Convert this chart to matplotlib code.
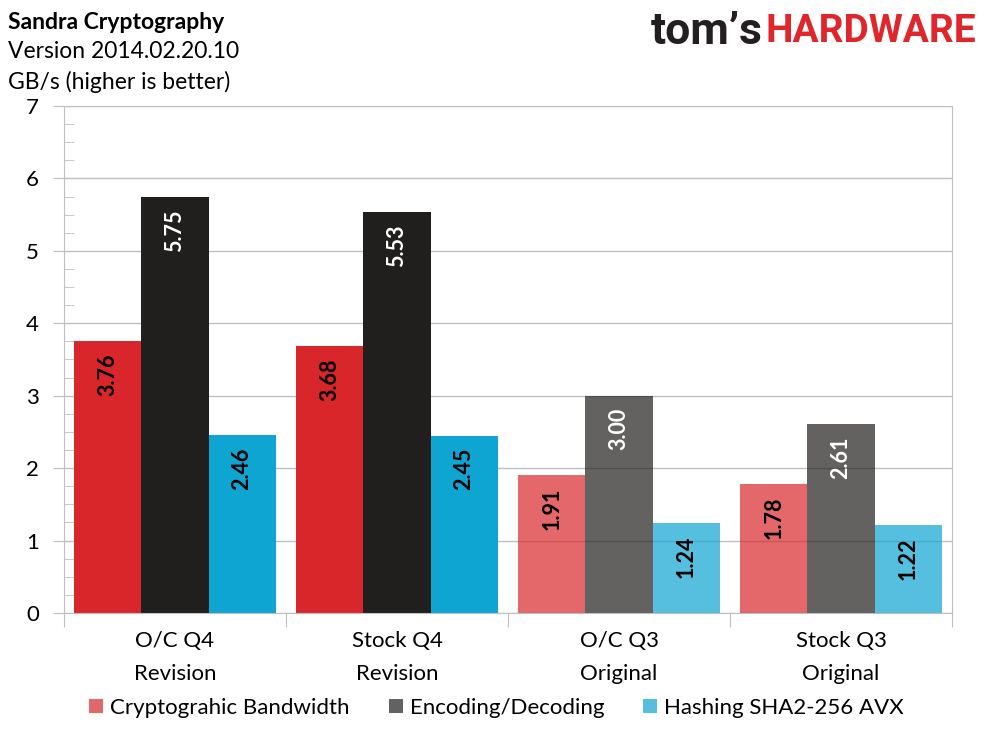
import numpy as np
import matplotlib.pyplot as plt
from matplotlib.patches import Patch
from matplotlib.ticker import MultipleLocator, FixedLocator

categories = ["O/C Q4\nRevision", "Stock Q4\nRevision", "O/C Q3\nOriginal", "Stock Q3\nOriginal"]
series = ["Cryptograhic Bandwidth", "Encoding/Decoding", "Hashing SHA2-256 AVX"]
crypto_bw = [3.76, 3.68, 1.91, 1.78]
enc_dec = [5.75, 5.53, 3.00, 2.61]
hashing = [2.46, 2.45, 1.24, 1.22]
bar_alpha = [1.0, 1.0, 0.7, 0.7]

colors = ["#D9262A", "#211F1E", "#0EA5D2"]
label_colors = ["black", "white", "black"]

plt.rcParams['font.family'] = ['Lato', 'DejaVu Sans']

fig = plt.figure(figsize=(9.89, 7.42), dpi=100)
ax = fig.add_axes([0.0647, 0.1739, 0.8979, 0.6832])

values = [crypto_bw, enc_dec, hashing]
w = 0.302
centers = np.arange(len(categories)) + 0.5
for s, vals in enumerate(values):
    for i, v in enumerate(vals):
        x = centers[i] + (s - 1) * w
        ax.bar(x, v, width=w, color=colors[s], alpha=bar_alpha[i], zorder=2, linewidth=0)
        ax.annotate(f"{v:.2f}", (x, v), xytext=(0, -9), textcoords='offset points',
                    rotation=90, ha='center', va='top', fontsize=15.5,
                    fontweight='bold', color=label_colors[s], zorder=3)

ax.set_xlim(0, 4)
ax.set_ylim(0, 7)
ax.yaxis.set_major_locator(MultipleLocator(1))
ax.yaxis.set_minor_locator(MultipleLocator(0.25))
ax.grid(axis='y', which='major', color='#BFBFBF', linewidth=1, zorder=0)
ax.set_axisbelow(True)

ax.xaxis.set_major_locator(FixedLocator([0, 1, 2, 3, 4]))
ax.xaxis.set_minor_locator(FixedLocator(centers))
ax.set_xticklabels([])
ax.set_xticklabels(categories, minor=True, fontsize=16, linespacing=1.8)
ax.tick_params(axis='x', which='major', length=10, color='#BFBFBF', direction='out')
ax.tick_params(axis='x', which='minor', length=0, pad=13)
ax.tick_params(axis='y', which='major', length=8, color='#BFBFBF', direction='out',
               labelsize=16, pad=10)
ax.tick_params(axis='y', which='minor', length=7, color='#BFBFBF', direction='in')
for sp in ax.spines.values():
    sp.set_color('#BFBFBF')

fig.text(0.008, 0.970, "Sandra Cryptography", fontsize=16.5, fontweight='bold', va='center')
fig.text(0.008, 0.930, "Version 2014.02.20.10", fontsize=16.5, va='center')
fig.text(0.008, 0.889, "GB/s (higher is better)", fontsize=16.5, va='center')

fig.text(0.7715, 0.957, "tom\u2019s", fontsize=32, fontweight='bold', color='#231F20',
         ha='right', va='center', family='Roboto')
fig.text(0.774, 0.957, "HARDWARE", fontsize=28, fontweight='bold', color='#E0262B',
         ha='left', va='center', family='Roboto')

handles = [Patch(facecolor=c, alpha=0.7, linewidth=0) for c in colors]
fig.legend(handles, series, loc='center', bbox_to_anchor=(0.502, 0.046), ncol=3,
           frameon=False, fontsize=16, handlelength=0.65, handleheight=0.65,
           handletextpad=0.3, columnspacing=1.75)

fig.savefig("out.png", dpi=100)
